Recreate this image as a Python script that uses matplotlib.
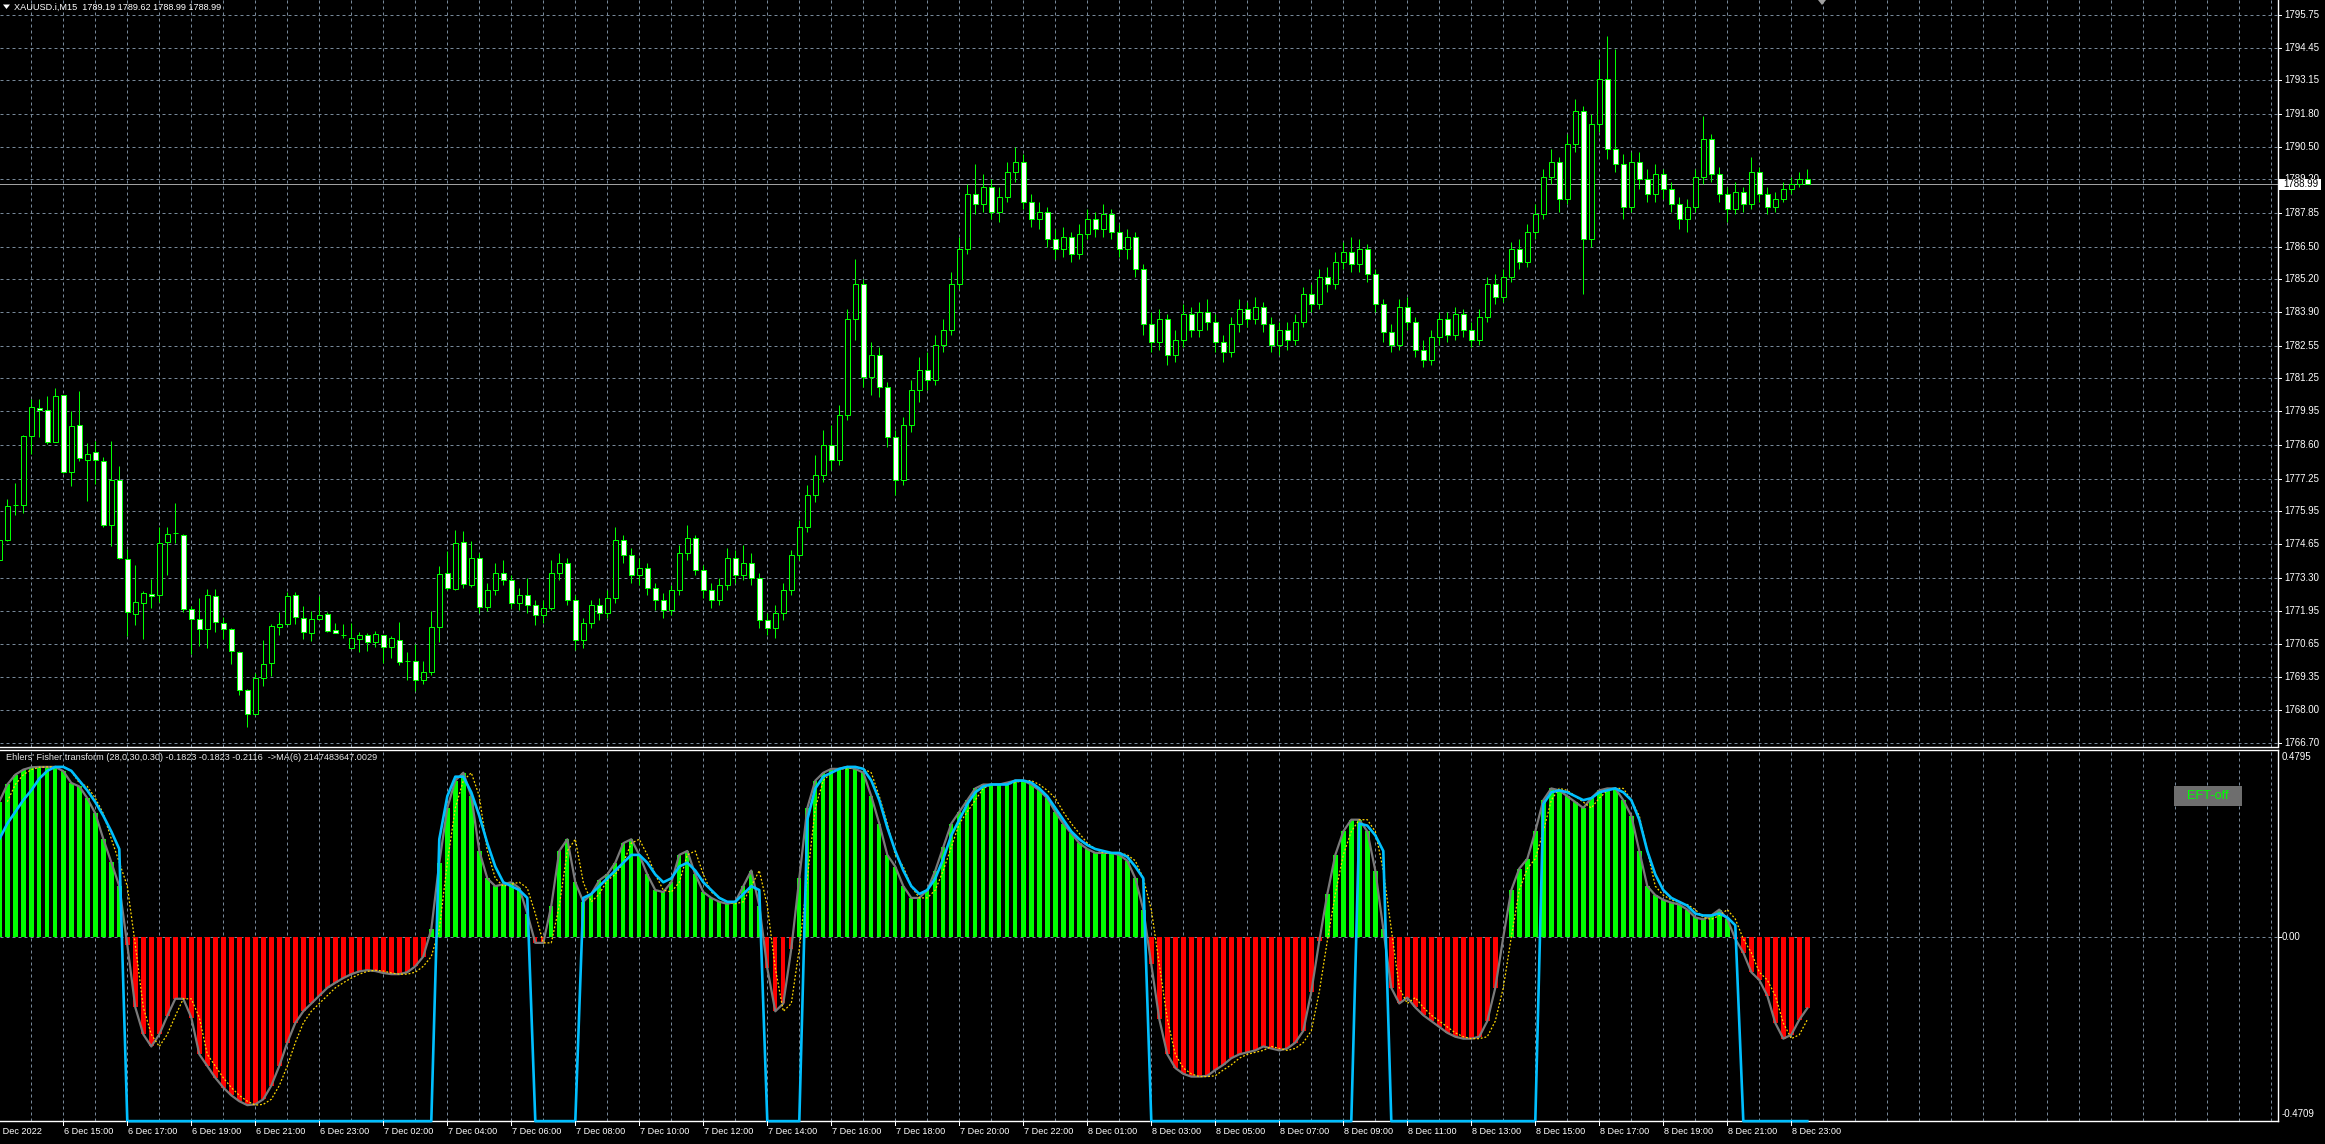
import matplotlib
matplotlib.use("Agg")
import matplotlib.pyplot as plt
from matplotlib.patches import Rectangle, Polygon

plt.rcParams['font.family'] = ['Liberation Sans', 'DejaVu Sans']

W, H = 2325, 1144

# ---------------- data ----------------
opens = [1774.00, 1774.79, 1776.18, 1776.18, 1778.94, 1780.08, 1780.00, 1778.73, 1780.57, 1777.51,
         1779.37, 1778.01, 1778.30, 1777.95, 1775.39, 1777.20, 1774.05, 1771.85, 1772.29, 1772.66,
         1772.60, 1774.71, 1775.07, 1775.00, 1772.06, 1771.66, 1771.26, 1772.58, 1771.50, 1771.26,
         1770.35, 1768.80, 1767.87, 1769.29, 1769.90, 1771.33, 1771.45, 1772.60, 1771.70, 1771.10,
         1771.63, 1771.85, 1771.21, 1771.00, 1770.51, 1770.85, 1770.99, 1770.75, 1771.01, 1770.55,
         1770.81, 1769.98, 1769.98, 1769.20, 1769.55, 1771.34, 1773.47, 1772.84, 1774.71, 1773.00,
         1774.09,
         1772.14, 1772.80, 1773.50, 1773.20, 1772.30, 1772.60, 1772.20, 1771.80, 1772.10, 1773.50,
         1773.90, 1772.40, 1770.80, 1771.50, 1772.20, 1771.90, 1772.50, 1774.80, 1774.20, 1773.40,
         1773.70, 1772.90, 1772.40, 1772.00, 1772.80, 1774.30, 1774.90, 1773.60, 1772.80, 1772.40,
         1773.00, 1774.10, 1773.40, 1773.90, 1773.30, 1771.60, 1771.30, 1771.90, 1772.80, 1774.20,
         1775.30, 1776.60, 1777.40, 1778.60, 1778.00, 1779.80, 1783.60, 1785.00, 1781.30, 1782.20,
         1780.90, 1778.90, 1777.20, 1779.40, 1780.80, 1781.60, 1781.20, 1782.60, 1783.20, 1785.00,
         1786.40, 1788.60, 1788.20, 1788.90, 1787.90, 1788.50, 1789.50, 1789.90, 1788.30, 1787.60,
         1787.90, 1786.80, 1786.40, 1786.90, 1786.20, 1787.00, 1787.60, 1787.20, 1787.80, 1787.10,
         1786.40, 1786.90, 1785.60, 1783.40, 1782.70, 1783.60, 1782.20, 1782.80, 1783.80, 1783.20,
         1783.90, 1783.50, 1782.70, 1782.30, 1783.40, 1784.00, 1783.60, 1784.10, 1783.40, 1782.60,
         1783.20, 1782.80, 1783.50, 1784.60, 1784.20, 1785.30, 1785.00, 1785.90, 1786.30, 1785.80,
         1786.40, 1785.40, 1784.20, 1783.10, 1782.60, 1784.10, 1783.50, 1782.40, 1782.00, 1782.90,
         1783.60, 1783.00, 1783.80, 1783.20, 1782.80, 1783.70, 1785.00, 1784.50, 1785.30, 1786.40,
         1785.90, 1787.10, 1787.80, 1789.30, 1789.90, 1788.40, 1790.60, 1791.90, 1786.80, 1791.40,
         1793.20, 1790.40, 1789.80, 1788.10, 1789.90, 1789.20, 1788.60, 1789.40, 1788.80, 1788.20,
         1787.60, 1788.10, 1789.30, 1790.80, 1789.40, 1788.60, 1788.00, 1788.70, 1788.20, 1789.50,
         1788.60, 1788.10, 1788.40, 1788.80, 1789.00, 1789.19]
highs = [1775.00, 1776.45, 1777.07, 1779.00, 1780.43, 1780.43, 1780.53, 1780.86, 1780.60, 1779.94,
         1780.73, 1778.68, 1778.76, 1778.11, 1778.76, 1777.76, 1774.46, 1773.82, 1772.78, 1773.23,
         1775.32, 1775.32, 1776.28, 1775.02, 1772.18, 1772.47, 1772.83, 1772.83, 1771.74, 1771.28,
         1770.37, 1768.85, 1769.49, 1770.80, 1771.44, 1771.91, 1772.74, 1772.71, 1772.15, 1771.98,
         1772.55, 1771.91, 1771.48, 1771.44, 1771.50, 1771.14, 1771.09, 1771.18, 1771.02, 1770.95,
         1771.54, 1770.35, 1770.67, 1769.99, 1771.98, 1773.77, 1774.35, 1775.20, 1775.16, 1774.76,
         1774.30,
         1773.10, 1773.90, 1774.00, 1773.40, 1772.90, 1773.30, 1772.40, 1772.40, 1774.00, 1774.30,
         1774.10, 1772.60, 1771.70, 1772.40, 1772.50, 1772.80, 1775.30, 1775.00, 1774.50, 1774.10,
         1773.90, 1773.10, 1772.70, 1773.00, 1774.60, 1775.40, 1775.00, 1773.80, 1773.10, 1773.30,
         1774.50, 1774.40, 1774.60, 1774.30, 1773.50, 1771.90, 1772.20, 1773.10, 1774.40, 1775.60,
         1777.00, 1778.20, 1779.20, 1779.40, 1780.20, 1784.00, 1786.00, 1785.20, 1782.70, 1782.50,
         1781.10, 1779.20, 1779.70, 1781.20, 1782.10, 1782.30, 1783.00, 1783.60, 1785.50, 1786.90,
         1789.00, 1789.80, 1789.40, 1789.20, 1788.90, 1789.90, 1790.50, 1790.20, 1788.60, 1788.30,
         1788.10, 1787.20, 1787.30, 1787.10, 1787.40, 1788.00, 1787.90, 1788.20, 1788.00, 1787.40,
         1787.20, 1787.10, 1785.80, 1783.90, 1784.00, 1783.80, 1783.20, 1784.20, 1784.10, 1784.30,
         1784.40, 1783.80, 1783.00, 1783.70, 1784.40, 1784.30, 1784.50, 1784.30, 1783.70, 1783.50,
         1783.50, 1783.80, 1784.90, 1785.00, 1785.60, 1785.70, 1786.30, 1786.70, 1786.90, 1786.80,
         1786.60, 1785.60, 1784.40, 1783.40, 1784.40, 1784.50, 1783.70, 1782.80, 1783.20, 1783.90,
         1783.90, 1784.10, 1784.00, 1783.50, 1784.00, 1785.30, 1785.40, 1785.60, 1786.70, 1786.80,
         1787.40, 1788.20, 1789.60, 1790.40, 1790.10, 1791.00, 1792.40, 1792.10, 1791.80, 1794.00,
         1794.90, 1794.40, 1790.20, 1790.30, 1790.30, 1789.60, 1789.80, 1789.60, 1789.10, 1788.50,
         1788.40, 1789.60, 1791.70, 1791.00, 1789.70, 1788.90, 1789.10, 1788.90, 1790.10, 1789.70,
         1788.90, 1788.70, 1789.10, 1789.30, 1789.50, 1789.62]
lows = [1773.80, 1774.75, 1775.79, 1775.89, 1778.24, 1778.90, 1778.64, 1778.70, 1777.48, 1776.95,
        1777.97, 1776.34, 1777.05, 1775.30, 1774.55, 1774.04, 1770.95, 1771.41, 1770.85, 1772.07,
        1772.34, 1773.40, 1774.70, 1771.94, 1770.24, 1770.59, 1770.51, 1771.14, 1770.85, 1769.86,
        1768.60, 1767.33, 1767.83, 1768.98, 1769.38, 1771.01, 1771.44, 1771.45, 1770.85, 1770.77,
        1771.60, 1771.14, 1771.08, 1770.88, 1770.48, 1770.35, 1770.38, 1770.55, 1769.90, 1770.08,
        1769.82, 1769.22, 1768.76, 1769.05, 1769.42, 1770.75, 1772.80, 1772.80, 1772.87, 1772.93,
        1771.90,
        1771.95, 1772.60, 1773.00, 1772.10, 1772.00, 1771.90, 1771.40, 1771.50, 1772.00, 1773.20,
        1772.20, 1770.40, 1770.50, 1771.30, 1771.60, 1771.70, 1772.30, 1773.90, 1773.10, 1773.00,
        1772.60, 1772.00, 1771.70, 1771.80, 1772.60, 1774.00, 1773.40, 1772.50, 1772.10, 1772.20,
        1772.80, 1773.10, 1773.20, 1773.00, 1771.30, 1771.00, 1770.90, 1771.60, 1772.60, 1774.00,
        1775.10, 1776.30, 1777.10, 1777.60, 1777.80, 1779.60, 1782.80, 1780.90, 1780.60, 1780.50,
        1778.50, 1776.60, 1777.00, 1779.10, 1780.30, 1780.80, 1781.00, 1782.30, 1783.00, 1784.80,
        1786.20, 1787.80, 1787.90, 1787.60, 1787.50, 1788.30, 1789.10, 1788.00, 1787.30, 1787.20,
        1786.50, 1786.00, 1786.10, 1785.90, 1786.00, 1786.80, 1786.90, 1786.90, 1786.80, 1786.10,
        1786.00, 1785.30, 1783.00, 1782.30, 1782.40, 1781.80, 1781.90, 1782.50, 1782.90, 1782.90,
        1783.20, 1782.30, 1781.90, 1782.10, 1783.10, 1783.30, 1783.40, 1783.10, 1782.30, 1782.20,
        1782.40, 1782.60, 1783.30, 1783.90, 1784.00, 1784.70, 1784.80, 1785.60, 1785.50, 1785.50,
        1785.10, 1783.90, 1782.70, 1782.30, 1782.40, 1783.20, 1782.10, 1781.70, 1781.80, 1782.60,
        1782.70, 1782.80, 1782.90, 1782.50, 1782.60, 1783.50, 1784.20, 1784.30, 1785.10, 1785.60,
        1785.70, 1786.80, 1787.60, 1789.00, 1787.90, 1788.20, 1790.30, 1784.60, 1786.50, 1791.10,
        1790.00, 1789.50, 1787.60, 1787.90, 1788.80, 1788.30, 1788.30, 1788.40, 1787.90, 1787.20,
        1787.10, 1787.90, 1789.00, 1789.10, 1788.30, 1787.50, 1787.80, 1787.90, 1788.00, 1788.30,
        1787.80, 1787.90, 1788.30, 1788.60, 1788.90, 1788.99]
closes = [1774.79, 1776.16, 1776.18, 1778.94, 1780.10, 1779.98, 1778.70, 1780.53, 1777.51, 1779.34,
          1778.07, 1778.23, 1778.01, 1775.39, 1777.20, 1774.09, 1771.94, 1772.34, 1772.70, 1772.58,
          1774.69, 1775.04, 1775.07, 1772.06, 1771.63, 1771.24, 1772.60, 1771.54, 1771.26, 1770.39,
          1768.80, 1767.87, 1769.29, 1769.85, 1771.36, 1771.46, 1772.58, 1771.73, 1771.14, 1771.63,
          1771.81, 1771.18, 1771.10, 1771.00, 1770.88, 1770.99, 1770.75, 1771.04, 1770.55, 1770.88,
          1769.95, 1769.98, 1769.20, 1769.55, 1771.34, 1773.44, 1772.87, 1774.69, 1773.03, 1774.09,
          1772.14,
          1772.80, 1773.50, 1773.20, 1772.30, 1772.60, 1772.20, 1771.80, 1772.10, 1773.50, 1773.90,
          1772.40, 1770.80, 1771.50, 1772.20, 1771.90, 1772.50, 1774.80, 1774.20, 1773.40, 1773.70,
          1772.90, 1772.40, 1772.00, 1772.80, 1774.30, 1774.90, 1773.60, 1772.80, 1772.40, 1773.00,
          1774.10, 1773.40, 1773.90, 1773.30, 1771.60, 1771.30, 1771.90, 1772.80, 1774.20, 1775.30,
          1776.60, 1777.40, 1778.60, 1778.00, 1779.80, 1783.60, 1785.00, 1781.30, 1782.20, 1780.90,
          1778.90, 1777.20, 1779.40, 1780.80, 1781.60, 1781.20, 1782.60, 1783.20, 1785.00, 1786.40,
          1788.60, 1788.20, 1788.90, 1787.90, 1788.50, 1789.50, 1789.90, 1788.30, 1787.60, 1787.90,
          1786.80, 1786.40, 1786.90, 1786.20, 1787.00, 1787.60, 1787.20, 1787.80, 1787.10, 1786.40,
          1786.90, 1785.60, 1783.40, 1782.70, 1783.60, 1782.20, 1782.80, 1783.80, 1783.20, 1783.90,
          1783.50, 1782.70, 1782.30, 1783.40, 1784.00, 1783.60, 1784.10, 1783.40, 1782.60, 1783.20,
          1782.80, 1783.50, 1784.60, 1784.20, 1785.30, 1785.00, 1785.90, 1786.30, 1785.80, 1786.40,
          1785.40, 1784.20, 1783.10, 1782.60, 1784.10, 1783.50, 1782.40, 1782.00, 1782.90, 1783.60,
          1783.00, 1783.80, 1783.20, 1782.80, 1783.70, 1785.00, 1784.50, 1785.30, 1786.40, 1785.90,
          1787.10, 1787.80, 1789.30, 1789.90, 1788.40, 1790.60, 1791.90, 1786.80, 1791.40, 1793.20,
          1790.40, 1789.80, 1788.10, 1789.90, 1789.20, 1788.60, 1789.40, 1788.80, 1788.20, 1787.60,
          1788.10, 1789.30, 1790.80, 1789.40, 1788.60, 1788.00, 1788.70, 1788.20, 1789.50, 1788.60,
          1788.10, 1788.40, 1788.80, 1789.00, 1789.20, 1788.99]

fisher = [0.346, 0.39, 0.415, 0.428, 0.434, 0.435, 0.435, 0.435, 0.424, 0.394,
          0.385, 0.355, 0.316, 0.251, 0.191, 0.13, -0.02, -0.18, -0.249, -0.28,
          -0.249, -0.202, -0.158, -0.158, -0.206, -0.30, -0.33, -0.36, -0.385, -0.405,
          -0.42, -0.43, -0.428, -0.415, -0.38, -0.33, -0.27, -0.22, -0.19, -0.17,
          -0.15, -0.13, -0.117, -0.105, -0.095, -0.088, -0.085, -0.087, -0.092, -0.095,
          -0.095, -0.09, -0.075, -0.05, 0.02, 0.19, 0.33, 0.40, 0.42, 0.36,
          0.22, 0.15, 0.13, 0.135, 0.14, 0.125, 0.06, -0.015, -0.015, 0.08,
          0.22, 0.25, 0.14, 0.09, 0.11, 0.145, 0.16, 0.19, 0.24, 0.25,
          0.21, 0.16, 0.12, 0.115, 0.14, 0.21, 0.22, 0.16, 0.115, 0.10,
          0.09, 0.085, 0.09, 0.13, 0.17, 0.08, -0.08, -0.19, -0.17, -0.03,
          0.15, 0.33, 0.40, 0.42, 0.43, 0.43, 0.435, 0.43, 0.42, 0.36,
          0.29, 0.21, 0.18, 0.13, 0.10, 0.10, 0.12, 0.17, 0.23, 0.29,
          0.32, 0.35, 0.38, 0.39, 0.39, 0.39, 0.395, 0.40, 0.40, 0.39,
          0.375, 0.355, 0.32, 0.29, 0.265, 0.24, 0.225, 0.215, 0.215, 0.215,
          0.21, 0.195, 0.15, 0.07, -0.07, -0.21, -0.30, -0.335, -0.35, -0.357,
          -0.357, -0.355, -0.34, -0.327, -0.31, -0.30, -0.295, -0.29, -0.28, -0.285,
          -0.29, -0.285, -0.27, -0.24, -0.14, -0.01, 0.11, 0.21, 0.27, 0.30,
          0.30, 0.27, 0.17, 0.02, -0.13, -0.17, -0.155, -0.18, -0.20, -0.215,
          -0.23, -0.245, -0.255, -0.26, -0.26, -0.255, -0.215, -0.13, 0.0, 0.12,
          0.175, 0.20, 0.27, 0.35, 0.38, 0.375, 0.36, 0.345, 0.33, 0.355,
          0.375, 0.38, 0.38, 0.35, 0.31, 0.22, 0.13, 0.107, 0.095, 0.088,
          0.083, 0.07, 0.05, 0.045, 0.055, 0.07, 0.046, -0.005, -0.04, -0.09,
          -0.11, -0.15, -0.22, -0.26, -0.25, -0.2116, -0.1823]

B = -0.4709
ma_line = [0.25, 0.29, 0.32, 0.35, 0.375, 0.405, 0.425, 0.435, 0.435, 0.425,
           0.40, 0.375, 0.345, 0.31, 0.27, 0.225, B, B, B, B,
           B, B, B, B, B, B, B, B, B, B,
           B, B, B, B, B, B, B, B, B, B,
           B, B, B, B, B, B, B, B, B, B,
           B, B, B, B, B, 0.25, 0.36, 0.41, 0.41, 0.37,
           0.31, 0.24, 0.18, 0.14, 0.13, 0.12, 0.10, B, B, B,
           B, B, B, 0.10, 0.11, 0.13, 0.15, 0.17, 0.19, 0.21,
           0.21, 0.19, 0.16, 0.14, 0.15, 0.18, 0.19, 0.17, 0.14, 0.12,
           0.10, 0.09, 0.09, 0.11, 0.13, 0.12, B, B, B, B,
           B, 0.30, 0.38, 0.41, 0.42, 0.43, 0.435, 0.435, 0.43, 0.40,
           0.35, 0.28, 0.22, 0.17, 0.13, 0.11, 0.12, 0.15, 0.20, 0.26,
           0.30, 0.34, 0.37, 0.385, 0.39, 0.39, 0.39, 0.40, 0.40, 0.395,
           0.38, 0.36, 0.33, 0.30, 0.27, 0.25, 0.235, 0.225, 0.22, 0.215,
           0.215, 0.205, 0.18, 0.15, B, B, B, B, B, B,
           B, B, B, B, B, B, B, B, B, B,
           B, B, B, B, B, B, B, B, B, B,
           0.29, 0.285, 0.26, 0.22, B, B, B, B, B, B,
           B, B, B, B, B, B, B, B, B, B,
           B, B, B, 0.34, 0.37, 0.375, 0.37, 0.36, 0.35, 0.355,
           0.37, 0.375, 0.38, 0.37, 0.35, 0.30, 0.22, 0.16, 0.12, 0.10,
           0.09, 0.08, 0.06, 0.055, 0.055, 0.06, 0.05, 0.03, B, B,
           B, B, B, B, B, B, B]

price_ticks = [1795.75, 1794.45, 1793.15, 1791.80, 1790.50, 1789.20, 1787.85, 1786.50,
               1785.20, 1783.90, 1782.55, 1781.25, 1779.95, 1778.60, 1777.25, 1775.95,
               1774.65, 1773.30, 1771.95, 1770.65, 1769.35, 1768.00, 1766.70]
price_labels = ["1795.75", "1794.45", "1793.15", "1791.80", "1790.50", "1789.20", "1787.85",
                "1786.50", "1785.20", "1783.90", "1782.55", "1781.25", "1779.95", "1778.60",
                "1777.25", "1775.95", "1774.65", "1773.30", "1771.95", "1770.65", "1769.35",
                "1768.00", "1766.70"]
time_ticks = [0, 8, 16, 24, 32, 40, 48, 56, 64, 72, 80, 88, 96, 104, 112, 120, 128,
              136, 144, 152, 160, 168, 176, 184, 192, 200, 208, 216, 224]
time_labels = ["6 Dec 2022", "6 Dec 15:00", "6 Dec 17:00", "6 Dec 19:00", "6 Dec 21:00",
               "6 Dec 23:00", "7 Dec 02:00", "7 Dec 04:00", "7 Dec 06:00", "7 Dec 08:00",
               "7 Dec 10:00", "7 Dec 12:00", "7 Dec 14:00", "7 Dec 16:00", "7 Dec 18:00",
               "7 Dec 20:00", "7 Dec 22:00", "8 Dec 01:00", "8 Dec 03:00", "8 Dec 05:00",
               "8 Dec 07:00", "8 Dec 09:00", "8 Dec 11:00", "8 Dec 13:00", "8 Dec 15:00",
               "8 Dec 17:00", "8 Dec 19:00", "8 Dec 21:00", "8 Dec 23:00"]
ind_ticks = [0.4795, 0.0, -0.4709]
ind_labels = ["0.4795", "0.00", "-0.4709"]
last_price = 1788.99
title = "XAUUSD.i,M15  1789.19 1789.62 1788.99 1788.99"
ind_title = "Ehlers' Fisher transform (28,0,30,0.30) -0.1823 -0.1823 -0.2116  ->MA(6) 2147483647.0029"

# ---------------- style ----------------
BG = 'black'
GRID = '#778899'
LIME = '#00ff00'
FS_NUM = 7.0
FS_TXT = 6.6
px = 0.72  # one pixel in points

fig = plt.figure(figsize=(W / 100, H / 100), dpi=100, facecolor=BG)

AX_W = 2278
main_top, main_bot = 0, 746.5
ind_top, ind_bot = 749.5, 1121

ax = fig.add_axes([0, 1 - main_bot / H, AX_W / W, (main_bot - main_top) / H])
ax2 = fig.add_axes([0, 1 - ind_bot / H, AX_W / W, (ind_bot - ind_top) / H])

x0 = 0.0875
xlim = (x0, x0 + AX_W / 8.0)
pp = 25.06  # pixels per price unit
ax.set_xlim(*xlim)
ax.set_ylim(1795.75 - (main_bot - 15) / pp, 1795.75 + 15 / pp)
ax2.set_xlim(*xlim)
vpp = (937 - ind_top) / 0.4795
ax2.set_ylim(-(ind_bot - 937) / vpp, (937 - ind_top) / vpp)

for a in (ax, ax2):
    a.set_facecolor(BG)
    a.spines['left'].set_visible(False)
    for s in ('top', 'right', 'bottom'):
        a.spines[s].set_color('white')
        a.spines[s].set_linewidth(1.0)
    a.set_xticks([])
    a.set_yticks([])
ax.spines['top'].set_visible(False)

# grid
dash = (0, (3, 3))
for k in range(1, 72):
    for a in (ax, ax2):
        a.axvline(4 * k, color=GRID, lw=px, ls=dash, zorder=1)
for p in price_ticks:
    ax.axhline(p, color=GRID, lw=px, ls=dash, zorder=1)
ax2.axhline(0.0, color=GRID, lw=px, ls=dash, zorder=1)

# current price line
ax.axhline(last_price, color='#a0a0a0', lw=px, zorder=1.5)

# candles
n = len(closes)
xs = list(range(n))
ax.vlines(xs, lows, highs, color=LIME, lw=px, zorder=2)
for i in range(n):
    o, c = opens[i], closes[i]
    fc = 'black' if c > o else 'white'
    lo, hi = min(o, c), max(o, c)
    ax.add_patch(Rectangle((i - 0.28, lo), 0.56, hi - lo, facecolor=fc,
                           edgecolor=LIME, lw=px, zorder=3))

# indicator
m = len(fisher)
ix = list(range(m))
cols = [LIME if v > 0 else '#ff0000' for v in fisher]
ax2.bar(ix, fisher, width=0.55, color=cols, zorder=2)
ax2.plot(ix, fisher, color='#7a7a7a', lw=1.6, zorder=3)
trig_x = ix[1:]
trig_y = fisher[:-1]
ax2.plot(trig_x, trig_y, color='#ffd700', lw=0.9, ls=(0, (1.5, 1.5)), zorder=4)
ax2.plot(ix, ma_line, color='#00bfff', lw=1.9, zorder=5, clip_on=False)

# right axis labels (main)
for p, lab in zip(price_ticks, price_labels):
    y = ax.transData.transform((0, p))[1]
    yf = y / H
    fig.lines.append(plt.Line2D([AX_W / W, (AX_W + 3) / W], [yf, yf], color='white', lw=px,
                                transform=fig.transFigure))
    fig.text((AX_W + 6) / W, yf, lab, color='white', fontsize=FS_NUM, va='center', ha='left')

# current price box
yb = ax.transData.transform((0, last_price))[1] / H
fig.patches.append(Rectangle(((AX_W + 1) / W, yb - 5.5 / H), 42 / W, 11 / H, facecolor='white',
                             edgecolor='none', transform=fig.transFigure, zorder=5))
fig.text((AX_W + 5) / W, yb, "1788.99", color='black', fontsize=FS_NUM, va='center', ha='left', zorder=6)

# right axis labels (indicator)
fig.text((AX_W + 4) / W, 1 - 757 / H, ind_labels[0], color='white', fontsize=FS_NUM, va='center')
fig.text((AX_W + 4) / W, 1 - 937 / H, ind_labels[1], color='white', fontsize=FS_NUM, va='center')
fig.text((AX_W + 4) / W, 1 - 1114 / H, ind_labels[2], color='white', fontsize=FS_NUM, va='center')
fig.lines.append(plt.Line2D([AX_W / W, (AX_W + 3) / W], [1 - 937 / H] * 2, color='white', lw=px,
                            transform=fig.transFigure))

# bottom time labels
for t, lab in zip(time_ticks, time_labels):
    xp = ax2.transData.transform((t, 0))[0]
    fig.lines.append(plt.Line2D([xp / W, xp / W], [1 - ind_bot / H, 1 - (ind_bot + 4) / H],
                                color='white', lw=px, transform=fig.transFigure))
    off = -4 if t == 0 else 1
    fig.text((xp + off) / W, 1 - 1131 / H, lab, color='white', fontsize=FS_TXT, va='center', ha='left')

# titles
fig.text(14 / W, 1 - 7 / H, title, color='white', fontsize=FS_TXT, va='center', ha='left')
fig.patches.append(Polygon([[3 / W, 1 - 4.5 / H], [10 / W, 1 - 4.5 / H], [6.5 / W, 1 - 9 / H]],
                           closed=True, facecolor='white', edgecolor='none', transform=fig.transFigure))
fig.text(6 / W, 1 - 758 / H, ind_title, color='#e6e6e6', fontsize=FS_TXT, va='center', ha='left')

# shift marker
fig.patches.append(Polygon([[1818 / W, 1 - 0 / H], [1826 / W, 1 - 0 / H], [1822 / W, 1 - 5 / H]],
                           closed=True, facecolor='#a0a0a0', edgecolor='none', transform=fig.transFigure))

# EFT-off button
fig.patches.append(Rectangle((2174 / W, 1 - 806 / H), 68 / W, 20 / H, facecolor='#6e6e6e',
                             edgecolor='none', transform=fig.transFigure))
fig.text(2208 / W, 1 - 796 / H, "EFT-off", color=LIME, fontsize=9.2, va='center', ha='center')

fig.savefig('out.png', dpi=100, facecolor=BG)
